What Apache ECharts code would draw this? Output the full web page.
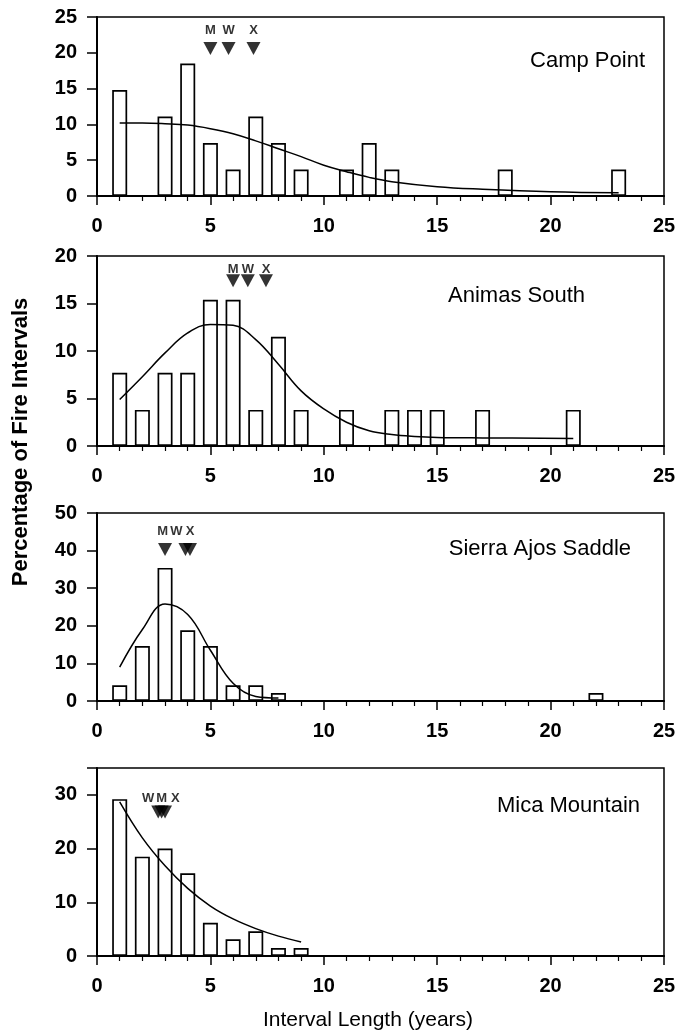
<!DOCTYPE html>
<html>
<head>
<meta charset="utf-8">
<script src="https://cdn.jsdelivr.net/npm/echarts@6/dist/echarts.min.js"></script>
<style>
  html, body { margin: 0; padding: 0; background: #fff; }
  #chart { width: 692px; height: 1032px; }
</style>
</head>
<body>
<div id="chart"></div>
<script>
// site names (panel labels)
const sites = ['Camp Point', 'Animas South', 'Sierra Ajos Saddle', 'Mica Mountain'];

// histogram: interval length (years) -> % of fire intervals
const campX = [1, 3, 4, 5, 6, 7, 8, 9, 11, 12, 13, 18, 23];
const campPct = [14.8, 11.1, 18.5, 7.4, 3.7, 11.1, 7.4, 3.7, 3.7, 7.4, 3.7, 3.7, 3.7];
const animasX = [1, 2, 3, 4, 5, 6, 7, 8, 9, 11, 13, 14, 15, 17, 21];
const animasPct = [7.7, 3.8, 7.7, 7.7, 15.4, 15.4, 3.8, 11.5, 3.8, 3.8, 3.8, 3.8, 3.8, 3.8, 3.8];
const sierraX = [1, 2, 3, 4, 5, 6, 7, 8, 22];
const sierraPct = [4.2, 14.6, 35.4, 18.8, 14.6, 4.2, 4.2, 2.1, 2.1];
const micaX = [1, 2, 3, 4, 5, 6, 7, 8, 9];
const micaPct = [29.2, 18.5, 20.0, 15.4, 6.2, 3.1, 4.6, 1.5, 1.5];

// fitted curves
const campFitX = [1, 2, 3, 4, 5, 6, 7, 8, 9, 10, 11, 12, 13, 15, 17, 20, 23];
const campFitY = [10.2, 10.2, 10.1, 9.9, 9.4, 8.7, 7.7, 6.6, 5.5, 4.3, 3.4, 2.6, 2.0, 1.3, 0.95, 0.6, 0.45];
const animasFitX = [1, 2, 3, 4, 5, 6, 7, 8, 9, 10, 11, 12, 13, 14, 15, 17, 21];
const animasFitY = [4.9, 7.3, 9.8, 11.9, 12.8, 12.7, 11.2, 8.6, 5.8, 3.9, 2.5, 1.6, 1.2, 1.0, 0.9, 0.85, 0.8];
const sierraFitX = [1, 2, 3, 4, 5, 6, 7, 8];
const sierraFitY = [9.0, 19.0, 25.8, 23.0, 13.5, 4.7, 1.2, 0.8];
const micaFitX = [1, 2, 3, 4, 5, 6, 7, 8, 9];
const micaFitY = [28.7, 22.0, 16.8, 12.6, 9.3, 6.9, 5.1, 3.7, 2.6];

// M / W / X markers
const markLetters = [['M', 'W', 'X'], ['M', 'W', 'X'], ['M', 'W', 'X'], ['W', 'M', 'X']];
const letterX = [[5.0, 5.8, 6.9], [6.0, 6.65, 7.45], [2.9, 3.5, 4.1], [2.25, 2.85, 3.45]];
const letterY = [23.1, 18.6, 45, 29.4];
const triX = [[5.0, 5.8, 6.9], [6.0, 6.65, 7.45], [3.0, 3.9, 4.1], [2.7, 2.85, 3.0]];
const triY = [20.6, 17.4, 40.3, 26.8];

// axes
const xTicks = [0, 5, 10, 15, 20, 25];
const yMax = [25, 20, 50, 35];
const yStep = [5, 5, 10, 10];

const histX = [campX, animasX, sierraX, micaX];
const histY = [campPct, animasPct, sierraPct, micaPct];
const fitX = [campFitX, animasFitX, sierraFitX, micaFitX];
const fitY = [campFitY, animasFitY, sierraFitY, micaFitY];

const FONT = '"Liberation Sans", Arial, sans-serif';
const gridTops = [17, 256, 513, 768];
const gridHeights = [179, 190, 188, 188];
const labelRight = [42, 102, 56, 47];
const labelTop = [45, 280, 533, 790];

const chart = echarts.init(document.getElementById('chart'));

const grid = [], xAxis = [], yAxis = [], series = [], title = [];
for (let i = 0; i < 4; i++) {
    grid.push({
        left: 97, right: 28, top: gridTops[i], height: gridHeights[i],
        show: true, borderColor: '#000', borderWidth: 1.5, backgroundColor: 'transparent'
    });
    xAxis.push({
        type: 'value', gridIndex: i, min: xTicks[0], max: xTicks[xTicks.length - 1], interval: 5,
        axisLine: { show: true, onZero: false, lineStyle: { color: '#000', width: 2 } },
        axisTick: { show: true, inside: false, length: 9, lineStyle: { color: '#000', width: 1.5 } },
        minorTick: { show: true, splitNumber: 5, length: 5, lineStyle: { color: '#000', width: 1.2 } },
        splitLine: { show: false },
        axisLabel: { margin: 20, color: '#000', fontFamily: FONT, fontSize: 20, fontWeight: 'bold' }
    });
    yAxis.push({
        type: 'value', gridIndex: i, min: 0, max: yMax[i], interval: yStep[i],
        axisLine: { show: true, lineStyle: { color: '#000', width: 2 } },
        axisTick: { show: true, inside: false, length: 10, lineStyle: { color: '#000', width: 1.5 } },
        splitLine: { show: false },
        axisLabel: {
            margin: 20, color: '#000', fontFamily: FONT, fontSize: 20, fontWeight: 'bold',
            formatter: (v) => (v % yStep[i] === 0 ? String(v) : '')
        }
    });
    series.push({
        type: 'bar', xAxisIndex: i, yAxisIndex: i, barWidth: 15,
        itemStyle: { color: '#fff', borderColor: '#000', borderWidth: 1.7 },
        data: histX[i].map((x, k) => [x, histY[i][k]]),
        z: 2
    });
    series.push({
        type: 'line', xAxisIndex: i, yAxisIndex: i, smooth: 0.4, symbol: 'none',
        lineStyle: { color: '#000', width: 1.5 },
        data: fitX[i].map((x, k) => [x, fitY[i][k]]),
        z: 3
    });
    series.push({
        type: 'scatter', xAxisIndex: i, yAxisIndex: i,
        symbol: 'path://M0,0L10,0L5,10Z', symbolSize: [14, 13],
        itemStyle: { color: '#000' },
        data: triX[i].map((x) => [x, triY[i]]),
        z: 4
    });
    series.push({
        type: 'scatter', xAxisIndex: i, yAxisIndex: i, symbolSize: 1,
        itemStyle: { color: 'transparent' },
        label: {
            show: true, position: 'inside', color: '#000', fontFamily: FONT,
            fontSize: 13, fontWeight: 'bold',
            formatter: (p) => markLetters[i][p.dataIndex]
        },
        data: letterX[i].map((x) => [x, letterY[i]]),
        z: 4
    });
    title.push({
        text: sites[i], right: labelRight[i], top: labelTop[i],
        textStyle: { color: '#000', fontFamily: FONT, fontSize: 22, fontWeight: 'normal' }
    });
}

chart.setOption({
    animation: false,
    backgroundColor: '#fff',
    title: title,
    grid: grid,
    xAxis: xAxis,
    yAxis: yAxis,
    series: series,
    graphic: [
        {
            type: 'text', x: 21, y: 442, rotation: Math.PI / 2,
            style: {
                text: 'Percentage of Fire Intervals', fill: '#000', font: 'bold 22px ' + FONT,
                align: 'center', verticalAlign: 'middle'
            }
        },
        {
            type: 'text', x: 368, y: 1020,
            style: {
                text: 'Interval Length (years)', fill: '#000', font: '21px ' + FONT,
                align: 'center', verticalAlign: 'middle'
            }
        }
    ]
});
</script>
</body>
</html>
